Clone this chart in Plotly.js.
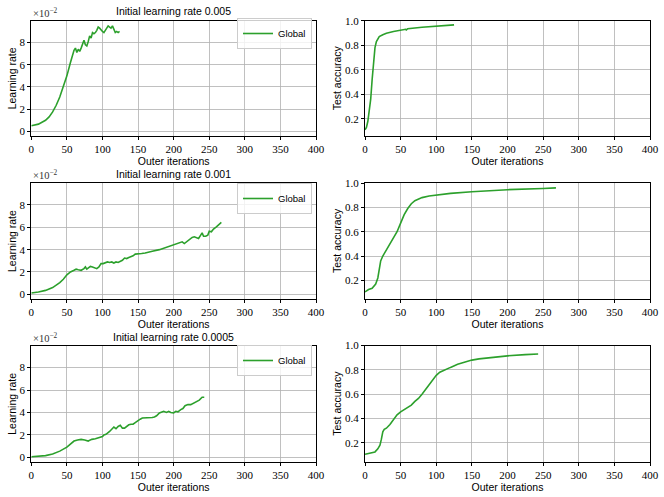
<!DOCTYPE html>
<html>
<head>
<meta charset="utf-8">
<script src="https://cdn.plot.ly/plotly-3.0.1.min.js"></script>
<style>
  html, body { margin: 0; padding: 0; background: white; }
  #chart { width: 664px; height: 497px; }
</style>
</head>
<body>
<div id="chart"></div>
<script>
// ----- learning rate, initial 0.005 (values are x1e-2) -----
var lr005Iter = [0, 10, 20, 25, 30, 35, 40, 45, 50, 55, 58, 60, 62, 64, 66, 68, 70, 72, 74, 76, 78, 80, 82, 84, 86, 88, 90, 92, 94, 96, 98, 100, 102, 104, 106, 108, 110, 112, 114, 116, 118, 120, 122, 124];
var lr005Rate = [0.5, 0.65, 1.0, 1.3, 1.75, 2.35, 3.1, 4.0, 5.0, 6.2, 6.9, 7.3, 7.5, 7.1, 7.4, 7.2, 7.5, 7.9, 8.2, 7.8, 7.7, 8.1, 8.6, 8.4, 8.9, 8.8, 8.9, 9.1, 9.4, 9.3, 9.1, 9.0, 8.9, 9.1, 9.3, 9.5, 9.4, 9.3, 9.5, 9.1, 8.9, 9.0, 8.9, 9.0];

// ----- learning rate, initial 0.001 -----
var lr001Iter = [0, 10, 20, 30, 40, 45, 50, 55, 60, 63, 66, 70, 74, 76, 78, 80, 83, 86, 89, 92, 95, 98, 101, 104, 107, 110, 113, 116, 119, 122, 125, 128, 131, 134, 137, 140, 143, 146, 149, 155, 160, 165, 170, 180, 190, 200, 208, 212, 215, 218, 222, 226, 229, 232, 235, 238, 240, 242, 245, 248, 250, 253, 256, 260, 264, 267];
var lr001Rate = [0.12, 0.2, 0.35, 0.6, 1.05, 1.35, 1.75, 2.0, 2.15, 2.25, 2.2, 2.15, 2.3, 2.45, 2.25, 2.35, 2.5, 2.45, 2.4, 2.3, 2.45, 2.75, 2.75, 2.8, 2.9, 2.85, 2.9, 2.8, 2.9, 2.85, 2.95, 3.05, 3.25, 3.2, 3.3, 3.35, 3.45, 3.6, 3.6, 3.65, 3.7, 3.75, 3.85, 4.0, 4.2, 4.4, 4.6, 4.7, 4.55, 4.7, 4.9, 5.1, 5.15, 5.05, 5.0, 5.3, 5.5, 5.2, 5.2, 5.3, 5.65, 5.6, 5.85, 6.05, 6.25, 6.45];

// ----- learning rate, initial 0.0005 -----
var lr0005Iter = [0, 20, 30, 40, 50, 55, 60, 65, 70, 75, 80, 83, 85, 90, 95, 100, 102, 105, 110, 113, 116, 119, 122, 125, 128, 131, 134, 137, 140, 143, 146, 150, 153, 156, 160, 165, 170, 173, 176, 180, 183, 186, 190, 193, 196, 200, 203, 206, 210, 213, 216, 220, 224, 228, 232, 236, 240, 243];
var lr0005Rate = [0.05, 0.15, 0.3, 0.55, 0.9, 1.2, 1.45, 1.55, 1.6, 1.55, 1.45, 1.55, 1.6, 1.65, 1.75, 1.85, 2.0, 2.05, 2.3, 2.55, 2.7, 2.55, 2.75, 2.85, 2.6, 2.6, 2.75, 2.9, 2.95, 2.95, 3.1, 3.3, 3.4, 3.5, 3.5, 3.55, 3.55, 3.6, 3.7, 3.95, 4.05, 4.1, 4.0, 4.1, 4.0, 3.95, 4.1, 4.05, 4.25, 4.35, 4.6, 4.7, 4.7, 4.85, 4.95, 5.1, 5.35, 5.35];

// ----- test accuracy -----
var acc005Iter = [0, 2, 4, 6, 8, 10, 11, 12, 14, 16, 18, 20, 25, 30, 40, 50, 57, 58, 60, 80, 100, 125];
var acc005 = [0.11, 0.13, 0.18, 0.26, 0.36, 0.52, 0.6, 0.68, 0.78, 0.83, 0.855, 0.87, 0.885, 0.897, 0.912, 0.925, 0.93, 0.925, 0.935, 0.947, 0.957, 0.966];

var acc001Iter = [0, 5, 10, 15, 18, 20, 22, 25, 30, 35, 40, 45, 50, 55, 60, 65, 70, 75, 80, 90, 100, 120, 150, 200, 250, 268];
var acc001 = [0.105, 0.125, 0.135, 0.17, 0.22, 0.3, 0.36, 0.4, 0.45, 0.5, 0.55, 0.6, 0.67, 0.74, 0.79, 0.83, 0.855, 0.87, 0.88, 0.893, 0.902, 0.915, 0.928, 0.945, 0.955, 0.96];

var acc0005Iter = [0, 5, 10, 14, 18, 21, 23, 25, 27, 30, 35, 40, 45, 50, 55, 60, 65, 70, 75, 80, 85, 90, 95, 100, 105, 110, 120, 130, 140, 150, 160, 175, 200, 225, 243];
var acc0005 = [0.105, 0.11, 0.12, 0.125, 0.15, 0.18, 0.23, 0.29, 0.31, 0.32, 0.35, 0.39, 0.43, 0.455, 0.475, 0.49, 0.51, 0.54, 0.565, 0.6, 0.64, 0.68, 0.72, 0.755, 0.78, 0.795, 0.82, 0.845, 0.865, 0.88, 0.89, 0.9, 0.915, 0.925, 0.93];

var titles = ["Initial learning rate 0.005", "Initial learning rate 0.001", "Initial learning rate 0.0005"];
var xTicks = [0, 50, 100, 150, 200, 250, 300, 350, 400];

var green = "#2ca02c";
var W = 664, H = 497;
var sans = "Liberation Sans, DejaVu Sans, sans-serif";
var serif = "Liberation Serif, DejaVu Serif, serif";

function scaled(arr) { return arr.map(function (v) { return v / 100; }); }

var rowsPx = [[20.7, 136], [183, 299], [345.5, 462]];
var leftPx = [31.3, 316], rightPx = [365, 650];
function xd(p) { return [p[0] / W, p[1] / W]; }
function yd(p) { return [1 - p[1] / H, 1 - p[0] / H]; }

var data = [
  { x: lr005Iter, y: scaled(lr005Rate), xaxis: "x", yaxis: "y", legend: "legend", name: "Global" },
  { x: acc005Iter, y: acc005, xaxis: "x2", yaxis: "y2", showlegend: false },
  { x: lr001Iter, y: scaled(lr001Rate), xaxis: "x3", yaxis: "y3", legend: "legend2", name: "Global" },
  { x: acc001Iter, y: acc001, xaxis: "x4", yaxis: "y4", showlegend: false },
  { x: lr0005Iter, y: scaled(lr0005Rate), xaxis: "x5", yaxis: "y5", legend: "legend3", name: "Global" },
  { x: acc0005Iter, y: acc0005, xaxis: "x6", yaxis: "y6", showlegend: false }
];
data.forEach(function (t) {
  t.type = "scatter";
  t.mode = "lines";
  t.line = { color: green, width: 1.6 };
});

var tickFont = { family: serif, size: 11, color: "black" };
var labelFont = { family: sans, size: 10.5, color: "black" };

function xAxis(dom, anchor) {
  return {
    domain: xd(dom), anchor: anchor, range: [0, 400],
    tickvals: xTicks, ticktext: xTicks.map(String),
    showgrid: true, gridcolor: "#b0b0b0", gridwidth: 0.8,
    showline: true, mirror: true, linecolor: "black", linewidth: 1,
    ticks: "outside", ticklen: 3, tickcolor: "black",
    tickfont: tickFont, zeroline: false,
    title: { text: "Outer iterations", font: labelFont, standoff: 1 }
  };
}
function yAxis(row, anchor, isLR, range) {
  var ax = {
    domain: yd(rowsPx[row]), anchor: anchor, range: range,
    showgrid: true, gridcolor: "#b0b0b0", gridwidth: 0.8,
    showline: true, mirror: true, linecolor: "black", linewidth: 1,
    ticks: "outside", ticklen: 3, tickcolor: "black",
    tickfont: tickFont, zeroline: false
  };
  if (isLR) {
    ax.tickvals = [0, 0.02, 0.04, 0.06, 0.08];
    ax.ticktext = ["0", "2", "4", "6", "8"];
  } else {
    ax.tickvals = [0.2, 0.4, 0.6, 0.8, 1.0];
    ax.ticktext = ["0.2", "0.4", "0.6", "0.8", "1.0"];
  }
  return ax;
}

var lrRange = [-0.0042, 0.0997];
var layout = {
  width: W, height: H,
  margin: { l: 0, r: 0, t: 0, b: 0 },
  paper_bgcolor: "white", plot_bgcolor: "white",
  showlegend: true,
  xaxis: xAxis(leftPx, "y"), yaxis: yAxis(0, "x", true, lrRange),
  xaxis2: xAxis(rightPx, "y2"), yaxis2: yAxis(0, "x2", false, [0.06, 1.0]),
  xaxis3: xAxis(leftPx, "y3"), yaxis3: yAxis(1, "x3", true, lrRange),
  xaxis4: xAxis(rightPx, "y4"), yaxis4: yAxis(1, "x4", false, [0.047, 1.0]),
  xaxis5: xAxis(leftPx, "y5"), yaxis5: yAxis(2, "x5", true, lrRange),
  xaxis6: xAxis(rightPx, "y6"), yaxis6: yAxis(2, "x6", false, [0.042, 1.0]),
  annotations: []
};

var legendY = [18, 183, 345];
["legend", "legend2", "legend3"].forEach(function (k, i) {
  layout[k] = {
    x: 312 / W, xanchor: "right", y: 1 - legendY[i] / H, yanchor: "top",
    bgcolor: "rgba(255,255,255,0.8)", bordercolor: "#cccccc", borderwidth: 1,
    font: { family: sans, size: 9.5, color: "black" },
    itemwidth: 30, tracegroupgap: 0
  };
});

var titleY = [11, 173.5, 336.5];
titles.forEach(function (t, i) {
  var mid = 1 - (rowsPx[i][0] + rowsPx[i][1]) / 2 / H;
  layout.annotations.push({
    text: t, xref: "paper", yref: "paper",
    x: (leftPx[0] + leftPx[1]) / 2 / W, y: 1 - titleY[i] / H,
    xanchor: "center", yanchor: "middle", showarrow: false,
    font: { family: sans, size: 10.5, color: "black" }
  });
  layout.annotations.push({
    text: "\u00d710<sup>\u22122</sup>", xref: "paper", yref: "paper",
    x: 31 / W, y: 1 - rowsPx[i][0] / H, xanchor: "left", yanchor: "bottom",
    showarrow: false,
    font: { family: serif, size: 10.5, color: "#333333" }
  });
  layout.annotations.push({
    text: "Learning rate", xref: "paper", yref: "paper",
    x: 12 / W, y: mid, xanchor: "center", yanchor: "middle",
    textangle: -90, showarrow: false, font: labelFont
  });
  layout.annotations.push({
    text: "Test accuracy", xref: "paper", yref: "paper",
    x: 337 / W, y: mid, xanchor: "center", yanchor: "middle",
    textangle: -90, showarrow: false, font: labelFont
  });
});

Plotly.newPlot("chart", data, layout, { displayModeBar: false, staticPlot: true });
</script>
</body>
</html>
